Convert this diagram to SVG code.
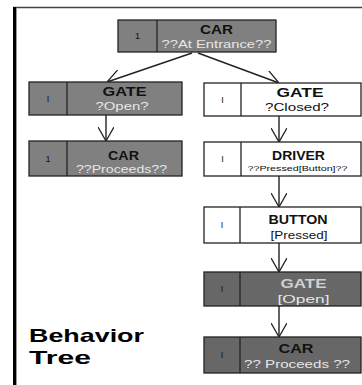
<svg xmlns="http://www.w3.org/2000/svg" width="362" height="385" viewBox="0 0 362 385">
<defs>
<marker id="arr" viewBox="0 0 14 16" refX="14" refY="8" markerWidth="14" markerHeight="16" markerUnits="userSpaceOnUse" orient="auto">
<path d="M0,0 L14,8 L0,16" fill="none" stroke="#222" stroke-width="1.3"/>
</marker>
<style>
.box{stroke:#222;stroke-width:1.3}
.g{fill:#808080}
.d{fill:#676767}
.w{fill:#fff}
.t{font-family:"Liberation Sans",Arial,sans-serif;font-weight:bold;font-size:12px;text-anchor:middle;fill:#111}
.s{font-family:"Liberation Sans",Arial,sans-serif;font-size:11px;text-anchor:middle}
.sl{fill:#e6e6e6}
.sd{fill:#111}
.n{font-family:"Liberation Sans",Arial,sans-serif;font-size:9px;text-anchor:middle}
.c{fill:none;stroke:#222;stroke-width:1.4;marker-end:url(#arr)}
.big{font-family:"Liberation Sans",Arial,sans-serif;font-weight:bold;font-size:19px;fill:#000}
</style>
</defs>
<rect width="362" height="385" fill="#fff"/>
<g id="frame">
<line x1="13" y1="7.5" x2="362" y2="7.5" stroke="#444" stroke-width="1.5"/>
<rect x="13" y="7" width="3" height="378" fill="#000"/>
<line x1="16.5" y1="8" x2="16.5" y2="385" stroke="#999" stroke-width="1"/>
</g>
<g id="connectors">
<line class="c" x1="192" y1="53" x2="107" y2="82"/>
<line class="c" x1="198" y1="53" x2="279" y2="83"/>
<line class="c" x1="106" y1="115" x2="106" y2="141"/>
<line class="c" x1="279" y1="116" x2="279" y2="142"/>
<line class="c" x1="279" y1="176" x2="279" y2="207"/>
<line class="c" x1="279" y1="243" x2="279" y2="272"/>
<line class="c" x1="279" y1="306" x2="279" y2="337"/>
</g>
<g id="n1">
<rect class="box g" x="118" y="20" width="158" height="32"/>
<line class="box" x1="157" y1="20" x2="157" y2="52"/>
<text class="n sd" x="137.5" y="39">1</text>
<text class="t" x="216.5" y="33.5" textLength="33" lengthAdjust="spacingAndGlyphs">CAR</text>
<text class="s sl" x="216.5" y="47.5" textLength="110" lengthAdjust="spacingAndGlyphs">??At Entrance??</text>
</g>
<g id="n2">
<rect class="box g" x="29" y="82" width="153" height="33"/>
<line class="box" x1="67" y1="82" x2="67" y2="115"/>
<text class="n sd" x="48" y="101.5">I</text>
<text class="t" x="124.5" y="95.5" textLength="44" lengthAdjust="spacingAndGlyphs">GATE</text>
<text class="s sl" x="122" y="110" textLength="53" lengthAdjust="spacingAndGlyphs">?Open?</text>
</g>
<g id="n3">
<rect class="box w" x="204" y="83" width="157" height="33"/>
<line class="box" x1="241" y1="83" x2="241" y2="116"/>
<text class="n sd" x="222.5" y="102.5">I</text>
<text class="t" x="300" y="96.5" textLength="47" lengthAdjust="spacingAndGlyphs">GATE</text>
<text class="s sd" x="297" y="111" textLength="64" lengthAdjust="spacingAndGlyphs">?Closed?</text>
</g>
<g id="n4">
<rect class="box g" x="29" y="141" width="153" height="35"/>
<line class="box" x1="67" y1="141" x2="67" y2="176"/>
<text class="n sd" x="48" y="161.5">1</text>
<text class="t" x="123.5" y="159.5" textLength="31" lengthAdjust="spacingAndGlyphs">CAR</text>
<text class="s sl" x="121.5" y="172.5" textLength="91" lengthAdjust="spacingAndGlyphs">??Proceeds??</text>
</g>
<g id="n5">
<rect class="box w" x="204" y="142" width="157" height="34"/>
<line class="box" x1="241" y1="142" x2="241" y2="176"/>
<text class="n sd" x="222.5" y="162">I</text>
<text class="t" x="298.5" y="159.5" textLength="53" lengthAdjust="spacingAndGlyphs">DRIVER</text>
<text class="s sd" x="297.5" y="170.5" style="font-size:7.5px" textLength="100" lengthAdjust="spacingAndGlyphs">??Pressed[Button]??</text>
</g>
<g id="n6">
<rect class="box w" x="204" y="207" width="157" height="36"/>
<line class="box" x1="240" y1="207" x2="240" y2="243"/>
<text class="n sd" x="222" y="228">I</text>
<text class="t" x="298" y="224" textLength="59" lengthAdjust="spacingAndGlyphs">BUTTON</text>
<text class="s sd" x="299" y="238.5" textLength="57" lengthAdjust="spacingAndGlyphs">[Pressed]</text>
</g>
<g id="n7">
<rect class="box d" x="204" y="272" width="157" height="34"/>
<line class="box" x1="240" y1="272" x2="240" y2="306"/>
<text class="n sd" x="222" y="292">I</text>
<text class="t" x="303.5" y="288" style="fill:#d0d0d0" textLength="46" lengthAdjust="spacingAndGlyphs">GATE</text>
<text class="s sl" x="303.5" y="302.5" textLength="52" lengthAdjust="spacingAndGlyphs">[Open]</text>
</g>
<g id="n8">
<rect class="box d" x="204" y="337" width="157" height="36"/>
<line class="box" x1="240" y1="337" x2="240" y2="373"/>
<text class="n sd" x="222" y="358">I</text>
<text class="t" x="296" y="353" textLength="35" lengthAdjust="spacingAndGlyphs">CAR</text>
<text class="s sl" x="297" y="367.5" textLength="106" lengthAdjust="spacingAndGlyphs">?? Proceeds ??</text>
</g>
<g id="label">
<text class="big" x="29" y="342" textLength="115" lengthAdjust="spacingAndGlyphs">Behavior</text>
<text class="big" x="29" y="364" textLength="62" lengthAdjust="spacingAndGlyphs">Tree</text>
</g>
</svg>
